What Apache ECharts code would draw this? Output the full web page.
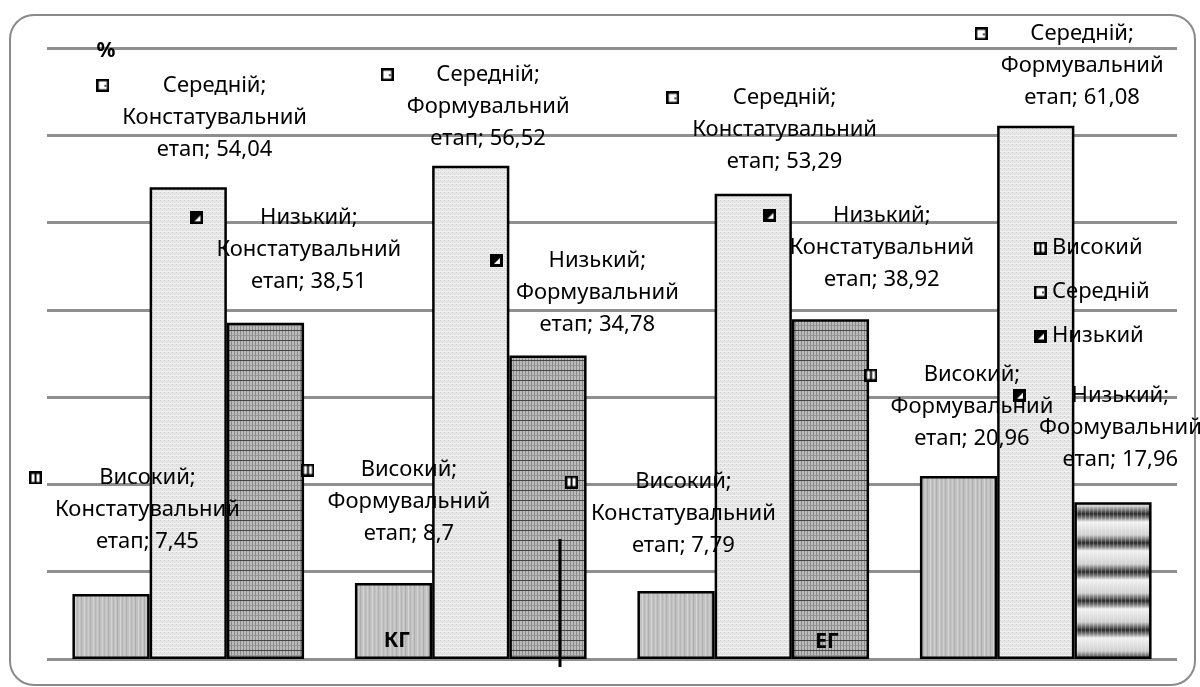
<!DOCTYPE html>
<html>
<head>
<meta charset="utf-8">
<script src="https://cdn.jsdelivr.net/npm/echarts@6/dist/echarts.min.js"></script>
<style>
  html, body { margin: 0; padding: 0; background: #fff; }
  #main { width: 1200px; height: 687px; }
</style>
</head>
<body>
<div id="main"></div>
<script>
// дані
const categories = ['КГ Констатувальний етап', 'КГ Формувальний етап', 'ЕГ Констатувальний етап', 'ЕГ Формувальний етап']
const stages = ['Констатувальний етап', 'Формувальний етап', 'Констатувальний етап', 'Формувальний етап']
const groupNames = ['КГ', 'ЕГ']
const seriesNames = ['Високий', 'Середній', 'Низький']
const highValues = [7.45, 8.7, 7.79, 20.96]
const midValues = [54.04, 56.52, 53.29, 61.08]
const lowValues = [38.51, 34.78, 38.92, 17.96]
const values = [highValues, midValues, lowValues]

// де стоять підписи відносно стовпчика (як у Excel)
const labelPos = [
  [[75, -84], [54, -81], [46, -77], [52, -69]],
  [[65, -70], [56, -59], [70, -64], [85, -60]],
  [[82, -73], [88, -63], [90, -72], [46, -75]]
]

const FONT = '"Noto Sans", "DejaVu Sans", sans-serif'

function makeCanvas(w, h, draw) {
  const c = document.createElement('canvas')
  c.width = w
  c.height = h
  draw(c.getContext('2d'))
  return c
}

/* штрихування стовпчиків */
const highPattern = makeCanvas(9, 2, ctx => {
  ctx.fillStyle = '#c2c2c2'; ctx.fillRect(0, 0, 9, 2)
  ctx.fillStyle = '#adadad'; ctx.fillRect(0, 0, 1, 2)
  ctx.fillStyle = '#d4d4d4'; ctx.fillRect(3, 0, 1, 2)
  ctx.fillStyle = '#b6b6b6'; ctx.fillRect(5, 0, 1, 2)
  ctx.fillStyle = '#cdcdcd'; ctx.fillRect(7, 0, 1, 2)
})
const midPattern = makeCanvas(4, 4, ctx => {
  ctx.fillStyle = '#e6e6e6'; ctx.fillRect(0, 0, 4, 4)
  ctx.fillStyle = '#cdcdcd'; ctx.fillRect(0, 0, 1, 1)
  ctx.fillStyle = '#d5d5d5'; ctx.fillRect(2, 2, 1, 1)
  ctx.fillStyle = '#f2f2f2'; ctx.fillRect(0, 3, 4, 1)
})
const lowPattern = makeCanvas(3, 10, ctx => {
  ctx.fillStyle = '#bcbcbc'; ctx.fillRect(0, 0, 3, 10)
  ctx.fillStyle = '#8a8a8a'; ctx.fillRect(0, 0, 1, 10)
  ctx.fillStyle = '#444'; ctx.fillRect(0, 0, 3, 1)
  ctx.fillStyle = '#959595'; ctx.fillRect(0, 5, 3, 1)
})
const bandPattern = makeCanvas(4, 29, ctx => {
  const g = ctx.createLinearGradient(0, 0, 0, 29)
  g.addColorStop(0, '#f2f2f2')
  g.addColorStop(0.45, '#d0d0d0')
  g.addColorStop(0.72, '#2a2a2a')
  g.addColorStop(0.85, '#7a7a7a')
  g.addColorStop(1, '#f2f2f2')
  ctx.fillStyle = g; ctx.fillRect(0, 0, 4, 29)
  ctx.fillStyle = 'rgba(255,255,255,0.25)'; ctx.fillRect(1, 0, 1, 29)
})

/* маленькі значки легенди */
function icon(kind) {
  return makeCanvas(13, 13, ctx => {
    ctx.fillStyle = kind === 'low' ? '#000' : '#fff'
    ctx.fillRect(0, 0, 13, 13)
    if (kind === 'low') {
      ctx.fillStyle = '#fff'
      ctx.beginPath(); ctx.moveTo(4, 10); ctx.lineTo(10, 4); ctx.lineTo(10, 10); ctx.closePath(); ctx.fill()
    }
    if (kind === 'mid') { ctx.fillStyle = '#555'; ctx.fillRect(8, 6, 2, 2) }
    if (kind === 'high') { ctx.fillStyle = '#000'; ctx.fillRect(5.5, 1, 2, 11) }
    ctx.strokeStyle = '#000'; ctx.lineWidth = 2.5
    ctx.strokeRect(1.25, 1.25, 10.5, 10.5)
  })
}
const icons = [icon('high'), icon('mid'), icon('low')]
const patterns = [highPattern, midPattern, lowPattern]

const rich = {
  t: { fontSize: 22, lineHeight: 32, fontFamily: FONT, color: '#000', align: 'center' },
  l: { width: 26, lineHeight: 32, align: 'left' },
  r: { width: 26, lineHeight: 32, align: 'right' },
  g: { width: 13, lineHeight: 32, align: 'left' }
}
icons.forEach((c, s) => {
  rich['m' + s] = { width: 13, height: 13, align: 'left', backgroundColor: { image: c } }
})

const myChart = echarts.init(document.getElementById('main'))
const option = {
  animation: false,
  grid: { left: 47, right: 23, top: 48, bottom: 28 },
  xAxis: {
    type: 'category',
    data: categories,
    axisLine: { show: false },
    axisTick: { show: false },
    axisLabel: { show: false }
  },
  yAxis: {
    type: 'value',
    min: 0,
    max: 70,
    interval: 10,
    axisLabel: { show: false },
    splitLine: { lineStyle: { color: '#8f8f8f', width: 3 } }
  },
  legend: {
    orient: 'vertical',
    left: 1029,
    top: 231,
    itemWidth: 13,
    itemHeight: 13,
    itemGap: 20,
    textStyle: { fontSize: 22, lineHeight: 24, fontFamily: FONT, color: '#000' },
    data: seriesNames.map((n, s) => ({ name: n, icon: 'image://' + icons[s].toDataURL() }))
  },
  series: seriesNames.map((name, s) => ({
    name: name,
    type: 'bar',
    barGap: '0%',
    barCategoryGap: '18%',
    itemStyle: { color: { image: patterns[s], repeat: 'repeat' }, borderColor: '#000', borderWidth: 2.5 },
    emphasis: { disabled: true },
    label: {
      show: true,
      align: 'center',
      verticalAlign: 'middle',
      rich: rich,
      formatter: p => {
        const st = stages[p.dataIndex].split(' ')
        const v = String(p.value).replace('.', ',')
        return [
          '{m' + s + '|}{g|}{t|' + p.seriesName + ';}{r|}',
          '{l|}{t|' + st[0] + '}{r|}',
          '{l|}{t|' + st[1] + '; ' + v + '}{r|}'
        ].join('\n')
      }
    },
    data: values[s].map((v, i) => {
      const item = { value: v, label: { position: labelPos[s][i] } }
      if (s === 2 && i === 3) item.itemStyle = { color: { image: bandPattern, repeat: 'repeat' } }/* останній стовпчик інший */
      return item
    })
  })),
  graphic: [
    { type: 'rect', shape: { x: 10, y: 15, width: 1185, height: 670, r: 24 }, style: { fill: 'none', stroke: '#8a8a8a', lineWidth: 2 }, z: 0 },
    { type: 'text', x: 106, y: 51, z: 100, style: { text: '%', font: 'bold 21px ' + FONT, fill: '#000', align: 'center', verticalAlign: 'middle' } },
    { type: 'text', x: 397, y: 641, z: 100, style: { text: groupNames[0], font: 'bold 21px ' + FONT, fill: '#000', align: 'center', verticalAlign: 'middle' } },
    { type: 'text', x: 827, y: 642, z: 100, style: { text: groupNames[1], font: 'bold 21px ' + FONT, fill: '#000', align: 'center', verticalAlign: 'middle' } },
    { type: 'line', shape: { x1: 560, y1: 539, x2: 560, y2: 667 }, style: { stroke: '#000', lineWidth: 3 }, z: 100 }
  ]
}
myChart.setOption(option)
</script>
</body>
</html>
